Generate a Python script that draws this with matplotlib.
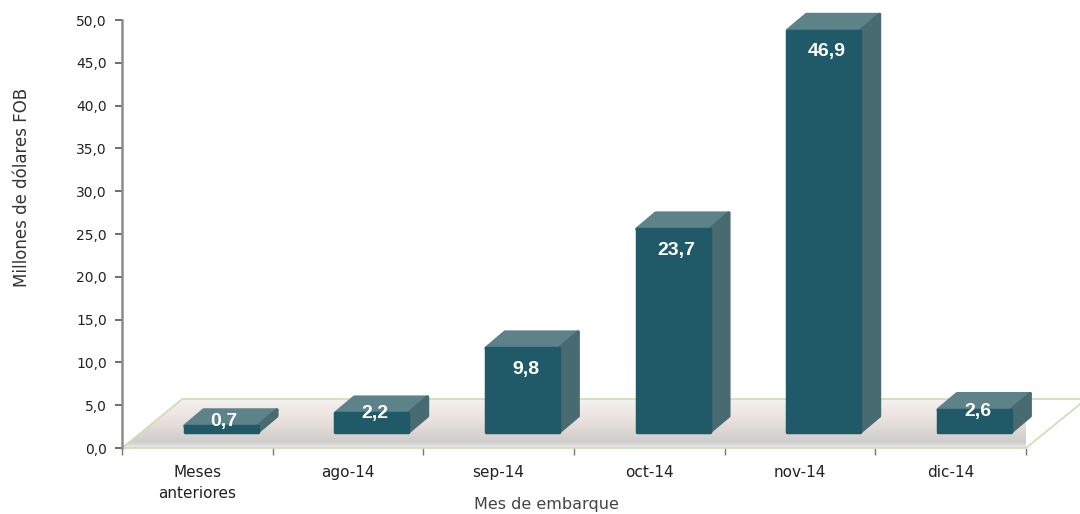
import matplotlib
matplotlib.use("Agg")
import matplotlib.pyplot as plt
import numpy as np
from matplotlib.patches import Polygon
from matplotlib.colors import LinearSegmentedColormap

categories = ["Meses\nanteriores", "ago-14", "sep-14", "oct-14", "nov-14", "dic-14"]
values = [0.7, 2.2, 9.8, 23.7, 46.9, 2.6]
value_labels = ["0,7", "2,2", "9,8", "23,7", "46,9", "2,6"]
y_ticks = [0, 5, 10, 15, 20, 25, 30, 35, 40, 45, 50]
y_tick_labels = ["0,0", "5,0", "10,0", "15,0", "20,0", "25,0", "30,0", "35,0", "40,0", "45,0", "50,0"]

W, H = 1080, 514
fig = plt.figure(figsize=(W / 100, H / 100), dpi=100)
ax = fig.add_axes([122 / W, (H - 448) / H, 904 / W, 428 / H])

# geometry (data units)
floor_dx, floor_dy = 0.40, 5.72
bar_base = 1.87
bar_shift = 0.159
bar_w = 0.485
dep_dx, dep_dy = 0.126, 1.87

front_c = "#205A69"
top_c = "#5D8388"
side_c = "#486A71"

n = len(categories)
floor_pts = [(0, 0), (n, 0), (n + floor_dx, floor_dy), (floor_dx, floor_dy)]

# floor gradient clipped to the parallelogram
cmap = LinearSegmentedColormap.from_list(
    "fl", [(0, "#ebebeb"), (0.12, "#cdcdcd"), (0.35, "#ddd7d4"), (0.6, "#ebe2de"), (1, "#f4f2f1")])
grad = np.linspace(0, 1, 200).reshape(-1, 1)
im = ax.imshow(grad, cmap=cmap, aspect="auto", extent=(0, n + floor_dx, 0, floor_dy),
               origin="lower", zorder=1)
clip_poly = Polygon(floor_pts, closed=True, transform=ax.transData)
im.set_clip_path(clip_poly)
im.set_clip_box(None)

floor = Polygon(floor_pts, closed=True, facecolor="none", edgecolor="#cfe0b4",
                linewidth=1.3, clip_on=False, zorder=2)
ax.add_patch(floor)
ax.set_xlim(0, n)
ax.set_ylim(0, 50)

# bars
xs = np.arange(n)
lefts = xs + 0.5 + bar_shift - bar_w / 2
ax.bar(lefts, values, width=bar_w, bottom=bar_base, align="edge", color=front_c,
       edgecolor=front_c, linewidth=2.5, joinstyle="round", zorder=4, clip_on=False)
for xl, v in zip(lefts, values):
    top_y = bar_base + v
    top = Polygon([(xl, top_y), (xl + bar_w, top_y), (xl + bar_w + dep_dx, top_y + dep_dy),
                   (xl + dep_dx, top_y + dep_dy)], closed=True, facecolor=top_c,
                  edgecolor=top_c, linewidth=2.5, joinstyle="round", zorder=3, clip_on=False)
    side = Polygon([(xl + bar_w, bar_base), (xl + bar_w + dep_dx, bar_base + dep_dy),
                    (xl + bar_w + dep_dx, top_y + dep_dy), (xl + bar_w, top_y)], closed=True,
                   facecolor=side_c, edgecolor=side_c, linewidth=2.5, joinstyle="round",
                   zorder=3, clip_on=False)
    ax.add_patch(top)
    ax.add_patch(side)

for xl, v, lab in zip(lefts, values, value_labels):
    ly = max(v - 2.5, 0.6 * v + 0.8)
    ax.text(xl + bar_w / 2 + 0.02, bar_base + ly, lab, ha="center", va="center",
            color="white", fontsize=14, fontweight="bold", family="Liberation Sans", zorder=6)

# axes styling
for s in ["top", "right", "bottom"]:
    ax.spines[s].set_visible(False)
ax.spines["left"].set_color("#8c8c8c")
ax.spines["left"].set_linewidth(1.8)
ax.set_yticks(y_ticks)
ax.set_yticklabels(y_tick_labels, fontsize=10, color="#222222")
ax.tick_params(axis="y", length=5, width=1.2, color="#555555", pad=6)
ax.set_xticks(xs + 0.5)
ax.set_xticklabels(categories, fontsize=11, color="#222222", linespacing=1.5)
ax.tick_params(axis="x", which="major", length=0, pad=12)
ax.set_xticks(np.arange(n + 1), minor=True)
ax.tick_params(axis="x", which="minor", length=5, width=1.0, color="#777777")
ax.patch.set_visible(False)

fig.text(22 / W, 1 - 187 / H, "Millones de dólares FOB", rotation=90, ha="center",
         va="center", fontsize=12, color="#333333")
fig.text(546 / W, 1 - 505 / H, "Mes de embarque", ha="center", va="center",
         fontsize=11.5, color="#444444")

fig.savefig("out.png", dpi=100)
